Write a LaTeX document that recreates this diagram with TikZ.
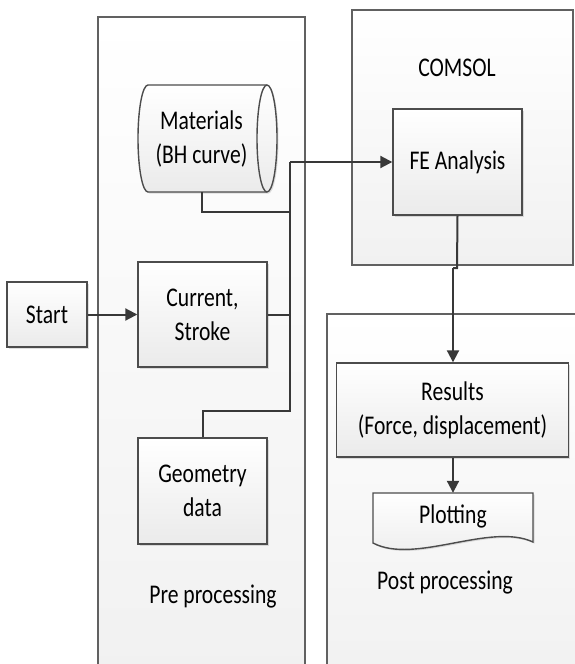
\documentclass[tikz,border=0pt]{standalone}
\usepackage{fontspec}
\setmainfont[FakeStretch=0.8]{Carlito}
\usetikzlibrary{arrows.meta,shadows}
\begin{document}
\begin{tikzpicture}[x=1pt,y=-1pt,
  panel/.style={draw=black!62, line width=1.2pt, top color=white, bottom color=gray!11},
  boxshape/.style={draw=black!70, line width=1.4pt, top color=white, bottom color=gray!16,
    drop shadow={shadow xshift=1.5pt,shadow yshift=-1.5pt,opacity=0.25}},
  box/.style={boxshape, align=center, inner sep=0pt, font=\fontsize{27}{34}\selectfont},
  lbl/.style={align=center, inner sep=0pt, font=\fontsize{27}{34}\selectfont},
  conn/.style={draw=black!78, line width=2pt},
  arr/.style={conn, -{Triangle[length=12pt,width=12pt]}}]
\clip (0,0) rectangle (575,664);
\fill[white] (0,0) rectangle (575,664);

% panels
\path[panel] (98,17) rectangle (305,680);
\path[panel] (352,10) rectangle (573,265);
\path[panel] (327,314) rectangle (590,680);

\node[lbl] (comsol) at (457,68) {COMSOL};
\node[lbl] (prelbl) at (213,597) {Pre processing};
\node[lbl] (postlbl) at (445,583) {Post processing};

% materials cylinder
\path[boxshape] (148,85) -- (267,85) arc(-90:90:10 and 53.5) -- (148,192) arc(90:270:10 and 53.5) -- cycle;
\draw[draw=black!70, line width=1.4pt] (267,85) arc(270:90:10 and 53.5);
\node[lbl, minimum height=107pt] (mat) at (201.5,138.5) {Materials\\(BH curve)};

% boxes
\node[box, minimum width=80pt, minimum height=65pt] (start) at (47,314.5) {Start};
\node[box, minimum width=129pt, minimum height=105pt] (cur) at (202.5,314.5) {Current,\\Stroke};
\node[box, minimum width=129pt, minimum height=106pt] (geo) at (202.5,491) {Geometry\\data};
\node[box, minimum width=129pt, minimum height=106pt] (fe) at (457.5,162) {FE Analysis};
\node[box, minimum width=232pt, minimum height=94pt] (res) at (452.5,410) {Results\\(Force, displacement)};

% plotting document shape
\path[boxshape] (373,493) -- (533,493) -- (533,542) .. controls (490,522) and (415,565) .. (373,543) -- cycle;
\node[lbl, minimum height=46pt] (plot) at (453,516) {Plotting};

% connectors
\coordinate (bustop) at (290,162);
\coordinate (busbot) at (290,411);
\coordinate (busmat) at (290,212);
\coordinate (buscur) at (290,314.5);
\coordinate (j1) at (457,268);
\coordinate (j2) at (453,268);

\draw[arr] (start) -- (cur);
\draw[conn] (cur.east) -- (buscur);
\draw[conn] (mat.south) |- (busmat);
\draw[conn] (geo.north) |- (busbot) -- (bustop);
\draw[arr] (bustop) -- (fe.west);
\draw[conn] (fe.south) -- (j1) -- (j2);
\draw[arr] (j2) -- (j2 |- res.north);
\draw[arr] (res.south -| plot.north) -- (plot.north);
\end{tikzpicture}
\end{document}
